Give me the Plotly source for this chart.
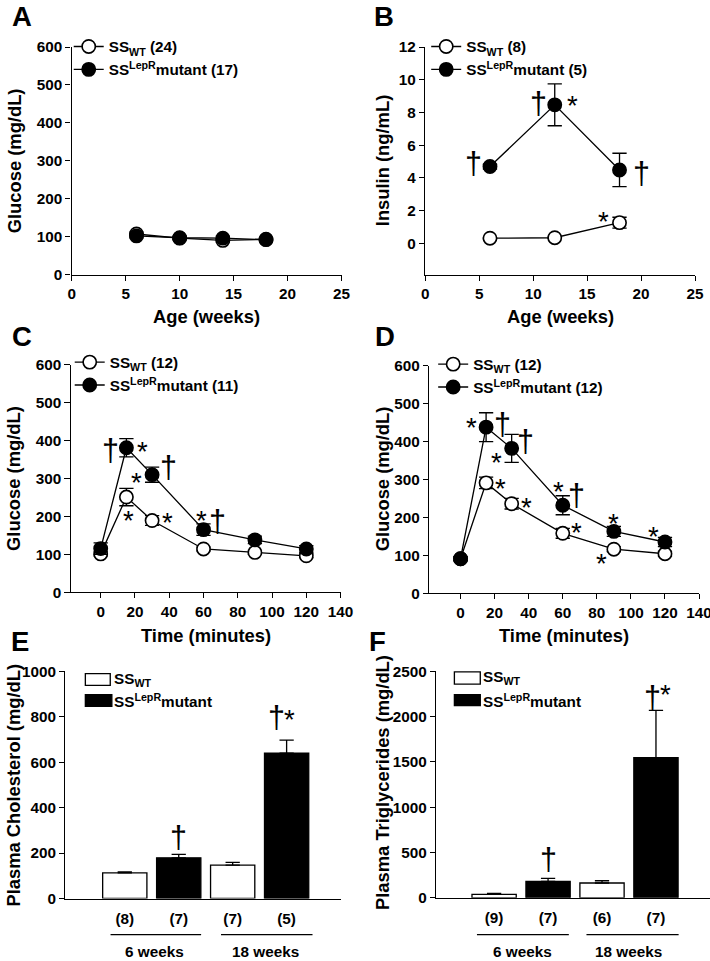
import plotly.graph_objects as go

# reference pixel frame (all positions below are given in these units)
W, H = 710, 961
# the photographed page region is ~2% wider than 710 and starts ~9px above the page,
# so the page is written slightly larger and everything is mapped through that.
K = 724 / 710
FW, FH = round(W * K), round(H * K)
TOP = 9

# ---------------- data ----------------
weeks_A = [6, 10, 14, 18]
A_wt = [107, 96, 90, 93]
A_wt_err = [5, 4, 4, 4]
A_mut = [102, 97, 96, 92]
A_mut_err = [5, 4, 5, 4]

weeks_B = [6, 12, 18]
B_wt = [0.32, 0.35, 1.27]
B_wt_err = [0.05, 0.05, 0.33]
B_mut = [4.70, 8.47, 4.49]
B_mut_err = [0.15, 1.28, 1.02]

time_min = [0, 15, 30, 60, 90, 120]
C_wt = [101, 251, 189, 114, 105, 96]
C_wt_err = [5, 23, 13, 5, 5, 5]
C_mut = [115, 381, 310, 165, 138, 114]
C_mut_err = [15, 24, 20, 15, 10, 9]

D_wt = [91, 291, 236, 158, 116, 104]
D_wt_err = [5, 15, 14, 13, 6, 6]
D_mut = [91, 438, 382, 232, 163, 135]
D_mut_err = [5, 38, 37, 25, 13, 12]

bar_pos = [1, 2, 3, 4]
bar_group = ["WT", "mut", "WT", "mut"]
E_vals = [113, 179, 147, 640]
E_err = [4, 15, 12, 57]
E_n = ["(8)", "(7)", "(7)", "(5)"]
F_vals = [38, 181, 163, 1548]
F_err = [11, 33, 25, 522]
F_n = ["(9)", "(7)", "(6)", "(7)"]
age_groups = ["6 weeks", "18 weeks"]

legend_A = ["SS<sub>WT</sub> (24)", "SS<sup>LepR</sup>mutant (17)"]
legend_B = ["SS<sub>WT</sub> (8)", "SS<sup>LepR</sup>mutant (5)"]
legend_C = ["SS<sub>WT</sub> (12)", "SS<sup>LepR</sup>mutant (11)"]
legend_D = ["SS<sub>WT</sub> (12)", "SS<sup>LepR</sup>mutant (12)"]
legend_bar = ["SS<sub>WT</sub>", "SS<sup>LepR</sup>mutant"]

# significance marks: (symbol, x, y)
sig_B = [("†", 4.5, 4.9), ("†", 10.46, 8.6), ("*", 13.6, 8.8), ("†", 20.0, 4.3), ("*", 16.5, 1.73)]
sig_C = [("†", 5.8, 376), ("*", 24.4, 388), ("*", 20.9, 306), ("†", 39.7, 330),
         ("*", 16.5, 204), ("*", 38.9, 200), ("*", 58.7, 206), ("†", 68.4, 188)]
sig_D = [("*", 6.2, 453), ("†", 24.7, 446), ("†", 37.9, 401), ("*", 21.4, 362),
         ("*", 23.7, 291), ("*", 38.9, 243), ("*", 57.4, 284), ("†", 68.1, 260),
         ("*", 68.1, 176), ("*", 89.8, 199), ("*", 82.6, 94), ("*", 113.4, 165)]
sig_E = [("†", 2.0, 270), ("†", 3.82, 797), ("*", 4.06, 816)]
sig_F = [("†", 2.0, 431), ("†", 3.93, 2215), ("*", 4.18, 2312)]

# ---------------- helpers ----------------
def px(x):
    return x * K / FW

def py(y):
    return 1 - (y - TOP) * K / FH

def s(v):
    return v * K

FONT = "Liberation Sans, Arial, sans-serif"
BOLD = dict(family=FONT, size=s(15), color="black", weight="bold")
LEGF = dict(family=FONT, size=s(15), color="black", weight="bold")

fig = go.Figure()


def add_line_pair(x, wt, wt_err, mut, mut_err, names, axn, legend):
    xa = "x" if axn == 1 else f"x{axn}"
    ya = "y" if axn == 1 else f"y{axn}"
    for vals, err, fill, name in [(wt, wt_err, "white", names[0]), (mut, mut_err, "black", names[1])]:
        fig.add_trace(go.Scatter(
            x=x, y=vals, mode="lines+markers", name=name,
            line=dict(color="black", width=s(1.3)),
            marker=dict(size=s(13), color=fill, line=dict(color="black", width=s(1.6))),
            error_y=dict(type="data", array=err, color="black", thickness=s(1.3), width=s(7)),
            xaxis=xa, yaxis=ya, legend=legend, legendgroup=name + legend,
        ))


add_line_pair(weeks_A, A_wt, A_wt_err, A_mut, A_mut_err, legend_A, 1, "legend")
add_line_pair(weeks_B, B_wt, B_wt_err, B_mut, B_mut_err, legend_B, 2, "legend2")
add_line_pair(time_min, C_wt, C_wt_err, C_mut, C_mut_err, legend_C, 3, "legend3")
add_line_pair(time_min, D_wt, D_wt_err, D_mut, D_mut_err, legend_D, 4, "legend4")


def add_bars(vals, err, axn):
    for grp, fill in [("WT", "white"), ("mut", "black")]:
        xs = [p for p, g in zip(bar_pos, bar_group) if g == grp]
        ys = [v for v, g in zip(vals, bar_group) if g == grp]
        es = [e for e, g in zip(err, bar_group) if g == grp]
        fig.add_trace(go.Bar(
            x=xs, y=ys, width=0.82, showlegend=False,
            marker=dict(color=fill, line=dict(color="black", width=s(1.3))),
            error_y=dict(type="data", symmetric=False, array=es, arrayminus=[0] * len(es),
                         color="black", thickness=s(1.3), width=s(7)),
            xaxis=f"x{axn}", yaxis=f"y{axn}",
        ))


add_bars(E_vals, E_err, 5)
add_bars(F_vals, F_err, 6)

# ---------------- axes ----------------
common = dict(showline=True, linecolor="black", linewidth=s(1.4), ticks="outside", ticklen=s(5),
              tickwidth=s(1.4), tickcolor="black", showgrid=False, zeroline=False,
              tickfont=BOLD, fixedrange=True)

axes = {
    1: dict(xd=(68, 339), yd=(47, 274), xr=[0, 25], xt=list(range(0, 26, 5)),
            yr=[0, 600], yt=list(range(0, 601, 100))),
    2: dict(xd=(423, 694), yd=(47, 274), xr=[0, 25], xt=list(range(0, 26, 5)),
            yr=[-1.9, 12], yt=list(range(0, 13, 2))),
    3: dict(xd=(67, 338), yd=(364, 591), xr=[-17.5, 140], xt=list(range(0, 141, 20)),
            yr=[0, 600], yt=list(range(0, 601, 100))),
    4: dict(xd=(427, 698), yd=(365, 592), xr=[-18.4, 140], xt=list(range(0, 141, 20)),
            yr=[0, 600], yt=list(range(0, 601, 100))),
    5: dict(xd=(61.7, 338), yd=(670, 896.7), xr=[-0.1, 5.0], xt=None,
            yr=[0, 1000], yt=list(range(0, 1001, 200))),
    6: dict(xd=(434, 710), yd=(670, 896), xr=[-0.074, 5.02], xt=None,
            yr=[0, 2500], yt=list(range(0, 2501, 500))),
}

layout = {}
for n, a in axes.items():
    xk = "xaxis" if n == 1 else f"xaxis{n}"
    yk = "yaxis" if n == 1 else f"yaxis{n}"
    ya = "y" if n == 1 else f"y{n}"
    xa = "x" if n == 1 else f"x{n}"
    xcfg = dict(common, domain=[px(a["xd"][0]), min(1, px(a["xd"][1]))], range=a["xr"], anchor=ya)
    if a["xt"] is not None:
        xcfg.update(tickmode="array", tickvals=a["xt"])
    else:
        xcfg.update(tickmode="array", tickvals=bar_pos, ticktext=(E_n if n == 5 else F_n),
                    ticks="", ticklabelstandoff=6)
    ycfg = dict(common, domain=[py(a["yd"][1]), py(a["yd"][0])], range=a["yr"], anchor=xa,
                tickmode="array", tickvals=a["yt"])
    layout[xk] = xcfg
    layout[yk] = ycfg

fig.update_layout(**layout)

# ---------------- legends ----------------
def leg(xp, ytop):
    return dict(x=px(xp), y=py(ytop), xanchor="left", yanchor="top", bgcolor="rgba(0,0,0,0)",
                font=LEGF, tracegroupgap=0, itemclick=False, itemdoubleclick=False)

fig.update_layout(
    legend=leg(65, 30),
    legend2=leg(424, 30),
    legend3=leg(66, 345),
    legend4=leg(431, 347),
)

annotations = []
shapes = []

# bar legends drawn as boxes + text (paper coords)
for (x0, x1, y0, y1, fill, label, tx) in [
    (81.7, 106.7, 672.3, 684, "white", legend_bar[0], 108),
    (81.7, 108.3, 693.3, 705, "black", legend_bar[1], 108),
    (452.3, 478.3, 670.5, 682.7, "white", legend_bar[0], 479),
    (452.3, 478.3, 693.3, 704.3, "black", legend_bar[1], 479),
]:
    shapes.append(dict(type="rect", xref="paper", yref="paper", x0=px(x0), x1=px(x1),
                       y0=py(y1), y1=py(y0), fillcolor=fill,
                       line=dict(color="black", width=s(1.3))))
    annotations.append(dict(xref="paper", yref="paper", x=px(tx), y=py((y0 + y1) / 2),
                            text=label, showarrow=False, xanchor="left", yanchor="middle",
                            font=LEGF))

# age group lines and labels under bar charts
for axn, spans, labx in [(5, [(0.736, 2.415), (2.784, 4.48)], [1.55, 3.6]),
                         (6, [(0.682, 2.385), (2.712, 4.42)], [1.53, 3.5])]:
    for (a0, a1), lx, lab in zip(spans, labx, age_groups):
        shapes.append(dict(type="line", xref=f"x{axn}", yref="paper", x0=a0, x1=a1,
                           y0=py(932.7), y1=py(932.7), line=dict(color="black", width=s(1.3))))
        annotations.append(dict(xref=f"x{axn}", yref="paper", x=lx, y=py(950), text=lab,
                                showarrow=False, font=BOLD, xanchor="center", yanchor="middle"))

# panel letters
for letter, x, y in [("A", 18, 16), ("B", 382, 16), ("C", 18, 336), ("D", 383, 336),
                     ("E", 16, 640), ("F", 375, 640)]:
    annotations.append(dict(xref="paper", yref="paper", x=px(x), y=py(y), text=letter,
                            showarrow=False, xanchor="center", yanchor="middle",
                            font=dict(family=FONT, size=s(27), color="black", weight="bold")))

# axis titles
TF = dict(family=FONT, size=s(18), color="black", weight="bold")
for text, x, y, rot in [
    ("Glucose (mg/dL)", 10.5, 160.5, -90), ("Insulin (ng/mL)", 380, 160.5, -90),
    ("Glucose (mg/dL)", 10, 477, -90), ("Glucose (mg/dL)", 381, 478, -90),
    ("Plasma Cholesterol (mg/dL)", 10, 783, -90), ("Plasma Triglycerides (mg/dL)", 380, 781, -90),
    ("Age (weeks)", 203.5, 316, 0), ("Age (weeks)", 558.5, 316, 0),
    ("Time (minutes)", 202.5, 634, 0), ("Time (minutes)", 562.5, 634, 0),
]:
    annotations.append(dict(xref="paper", yref="paper", x=px(x), y=py(y), text=text,
                            showarrow=False, textangle=rot, xanchor="center", yanchor="middle",
                            font=TF))

# significance marks
for axn, marks in [(2, sig_B), (3, sig_C), (4, sig_D), (5, sig_E), (6, sig_F)]:
    for sym, x, y in marks:
        if sym == "†":
            f = dict(family="Liberation Sans, Arial", size=s(30), color="black")
            ys = 0
        else:
            f = dict(family="Liberation Sans, Arial", size=s(27), color="black")
            ys = s(-6)
        annotations.append(dict(xref=f"x{axn}", yref=f"y{axn}", x=x, y=y, text=sym,
                                showarrow=False, xanchor="center", yanchor="middle",
                                font=f, yshift=ys))

fig.update_layout(
    width=FW, height=FH, margin=dict(l=0, r=0, t=0, b=0),
    paper_bgcolor="white", plot_bgcolor="white", barmode="overlay",
    annotations=annotations, shapes=shapes, font=dict(family=FONT, color="black"),
)

fig.write_html("out.html", config={"displayModeBar": False},
               post_script="document.body.style.margin='0';document.body.style.overflow='hidden';")
